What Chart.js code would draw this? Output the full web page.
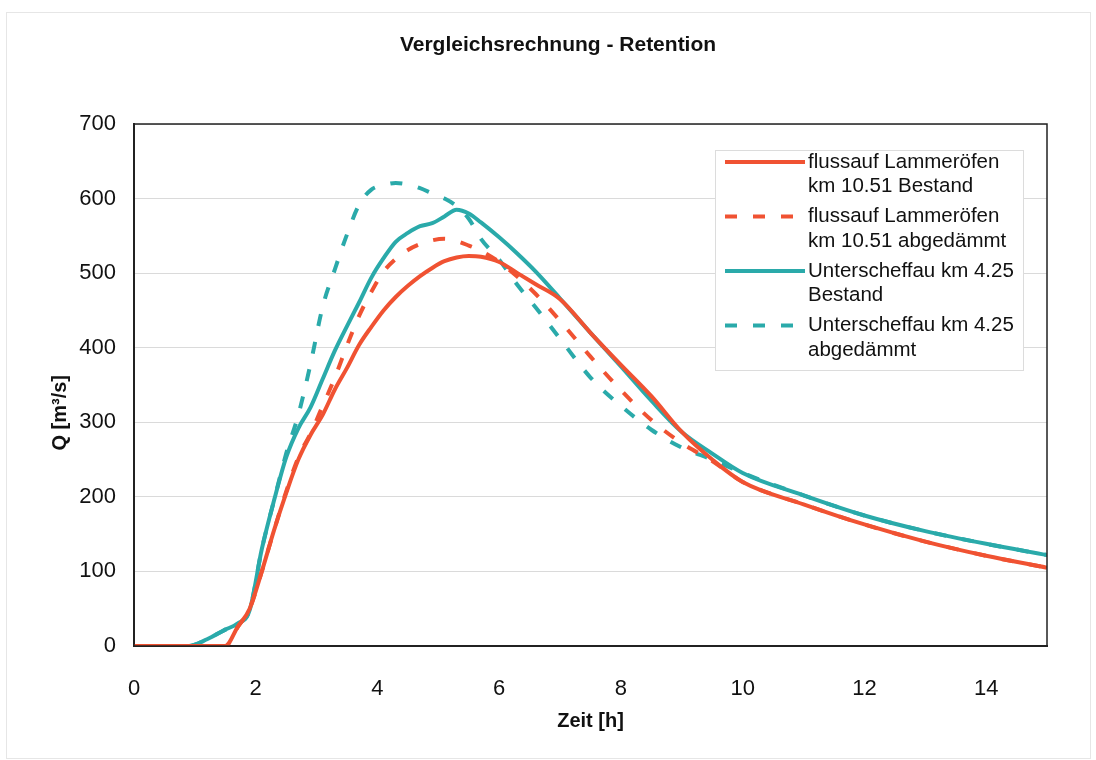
<!DOCTYPE html>
<html>
<head>
<meta charset="utf-8">
<script src="https://cdn.jsdelivr.net/npm/chart.js@4.4.1/dist/chart.umd.min.js"></script>
<style>
  body { margin: 0; background: #fff; }
  #wrap { width: 1096px; height: 760px; }
</style>
</head>
<body>
<div id="wrap"><canvas id="retention" width="1096" height="760"></canvas></div>
<script>
// Zeit [h]
const zeit = [0, 0.5, 0.9, 1.2, 1.5, 1.7, 1.9, 2.1, 2.3, 2.5, 2.7, 2.9, 3.1, 3.3, 3.5, 3.7, 3.9, 4.1, 4.3, 4.5,
              4.7, 4.9, 5.1, 5.3, 5.5, 5.7, 6.0, 6.3, 6.6, 7.0, 7.5, 8.0, 8.5, 9.0, 9.5, 10, 11, 12, 13, 14, 15];

// Q [m3/s]
const lammerBestand = [0, 0, 0, 0, 0, 25, 50, 100, 155, 205, 250, 283, 310, 344, 373, 404, 428, 450, 468, 483,
                       496, 507, 516, 521, 523, 522, 515, 500, 485, 465, 420, 377, 335, 287, 250, 220, 190, 163, 140, 121, 105];
const lammerAbgedaemmt = [0, 0, 0, 0, 0, 25, 50, 100, 155, 207, 253, 285, 322, 360, 403, 443, 475, 502, 519, 531,
                          539, 544, 546, 543, 537, 530, 515, 495, 472, 436, 388, 343, 303, 272, 248, 220, 190, 163, 140, 121, 105];
const scheffauBestand = [0, 0, 0, 9, 22, 30, 48, 130, 195, 253, 292, 320, 358, 396, 429, 461, 494, 520, 542, 554,
                         563, 567, 576, 585, 580, 568, 548, 526, 502, 466, 420, 375, 329, 287, 258, 232, 202, 175, 154, 137, 122];
const scheffauAbgedaemmt = [0, 0, 0, 9, 22, 30, 48, 130, 195, 258, 310, 378, 455, 505, 552, 592, 612, 618, 621, 619,
                            614, 607, 600, 590, 573, 546, 518, 484, 454, 412, 360, 322, 290, 266, 250, 232, 202, 175, 154, 137, 122];

const rot = 'rgb(240, 82, 50)';
const tuerkis = 'rgb(42, 170, 170)';
const schrift = '"Liberation Sans", Arial, sans-serif';

function punkte(werte) {
    return zeit.map((t, i) => ({ x: t, y: werte[i] }));
}

// legend inside the plot, with two-line labels
const legendeImPlot = {
    id: 'legendeImPlot',
    afterDraw(chart) {
        const ctx = chart.ctx;
        const area = chart.chartArea;
        const x0 = area.right - 332, y0 = area.top + 26;
        ctx.save();
        ctx.fillStyle = '#fff';
        ctx.strokeStyle = '#dcdcdc';
        ctx.lineWidth = 1;
        ctx.fillRect(x0, y0, 308, 220);
        ctx.strokeRect(x0 + 0.5, y0 + 0.5, 308, 220);
        ctx.font = '20.5px ' + schrift;
        ctx.textBaseline = 'middle';
        ctx.fillStyle = '#111';
        chart.data.datasets.forEach((ds, i) => {
            const y = y0 + 12 + i * 54.5;
            ctx.strokeStyle = ds.borderColor;
            ctx.lineWidth = 4;
            ctx.setLineDash(ds.borderDash || []);
            ctx.beginPath();
            ctx.moveTo(x0 + 10, y);
            ctx.lineTo(x0 + 90, y);
            ctx.stroke();
            ctx.setLineDash([]);
            ds.label.split('\n').forEach((zeile, j) => {
                ctx.fillText(zeile, x0 + 93, y + j * 24.5);
            });
        });
        ctx.restore();
    }
};

const rahmen = {
    id: 'rahmen',
    beforeDraw(chart) {
        const ctx = chart.ctx;
        ctx.save();
        ctx.strokeStyle = '#e6e6e6';
        ctx.lineWidth = 1;
        ctx.strokeRect(6.5, 12.5, 1084, 746);
        ctx.restore();
    },
    afterDatasetsDraw(chart) {
        const ctx = chart.ctx;
        const a = chart.chartArea;
        ctx.save();
        ctx.strokeStyle = '#222';
        ctx.lineWidth = 1.5;
        ctx.strokeRect(a.left, a.top, a.right - a.left, a.bottom - a.top);
        ctx.restore();
    }
};

new Chart(document.getElementById('retention').getContext('2d'), {
    type: 'line',
    data: {
        datasets: [
            { label: 'flussauf Lammeröfen\nkm 10.51 Bestand', data: punkte(lammerBestand),
              borderColor: rot, borderWidth: 4 },
            { label: 'flussauf Lammeröfen\nkm 10.51 abgedämmt', data: punkte(lammerAbgedaemmt),
              borderColor: rot, borderWidth: 4, borderDash: [12, 16] },
            { label: 'Unterscheffau km 4.25\nBestand', data: punkte(scheffauBestand),
              borderColor: tuerkis, borderWidth: 4 },
            { label: 'Unterscheffau km 4.25\nabgedämmt', data: punkte(scheffauAbgedaemmt),
              borderColor: tuerkis, borderWidth: 4, borderDash: [12, 16] }
        ]
    },
    options: {
        responsive: false,
        animation: false,
        layout: { padding: { left: 69, right: 49, top: 0, bottom: 0 } },
        elements: {
            point: { radius: 0 },
            line: { cubicInterpolationMode: 'monotone', fill: false }
        },
        plugins: {
            legend: { display: false },
            tooltip: { enabled: false },
            title: {
                display: true,
                text: 'Vergleichsrechnung - Retention',
                color: '#111',
                font: { family: schrift, size: 21, weight: 'bold' },
                padding: { top: 33, bottom: 65.8 }
            }
        },
        scales: {
            x: {
                type: 'linear',
                min: 0,
                max: 15,
                grid: { display: false },
                border: { color: '#222', width: 2 },
                ticks: {
                    stepSize: 2,
                    includeBounds: false,
                    maxRotation: 0,
                    padding: 22,
                    color: '#111',
                    font: { family: schrift, size: 22 }
                },
                title: {
                    display: true,
                    text: 'Zeit [h]',
                    color: '#111',
                    font: { family: schrift, size: 20, weight: 'bold' },
                    padding: { bottom: 27 }
                },
                afterFit(scale) { scale.height = 114; }
            },
            y: {
                min: 0,
                max: 700,
                grid: { color: '#dadada', lineWidth: 1, drawTicks: false },
                border: { color: '#222', width: 2 },
                ticks: {
                    stepSize: 100,
                    padding: 18,
                    color: '#111',
                    font: { family: schrift, size: 22 }
                },
                title: {
                    display: true,
                    text: 'Q [m³/s]          ',
                    color: '#111',
                    font: { family: schrift, size: 20, weight: 'bold' },
                    padding: { top: -21 }
                },
                afterFit(scale) { scale.width = 65; }
            }
        }
    },
    plugins: [rahmen, legendeImPlot]
});
</script>
</body>
</html>
